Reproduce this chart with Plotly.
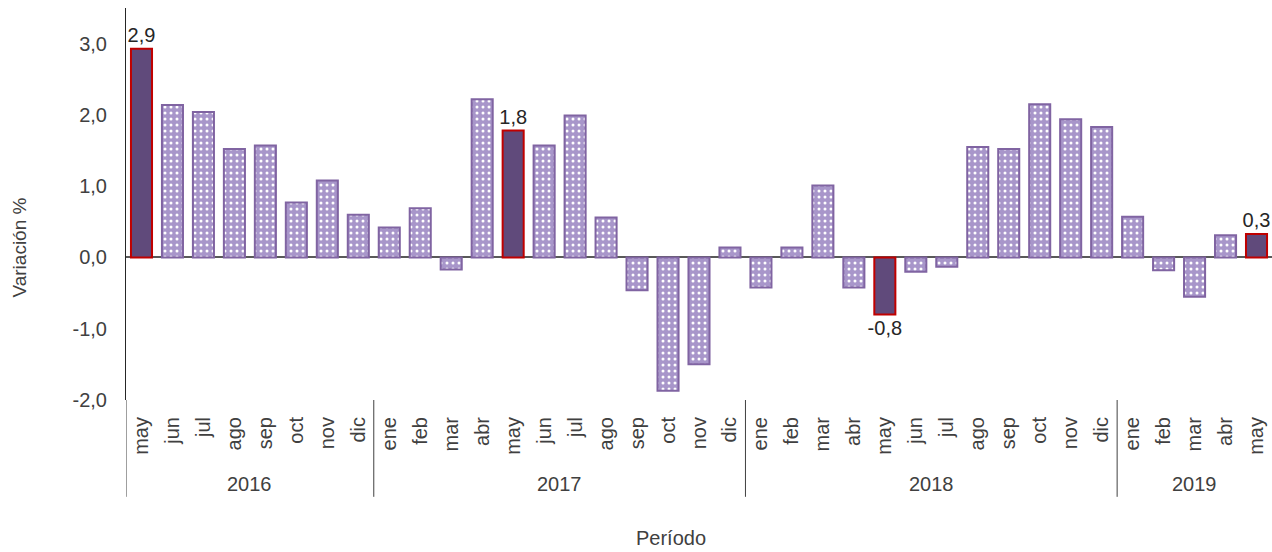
import plotly.graph_objects as go

years = ["2016"] * 8 + ["2017"] * 12 + ["2018"] * 12 + ["2019"] * 5
months = ["may", "jun", "jul", "ago", "sep", "oct", "nov", "dic",
          "ene", "feb", "mar", "abr", "may", "jun", "jul", "ago", "sep", "oct", "nov", "dic",
          "ene", "feb", "mar", "abr", "may", "jun", "jul", "ago", "sep", "oct", "nov", "dic",
          "ene", "feb", "mar", "abr", "may"]
values = [2.93, 2.14, 2.04, 1.52, 1.57, 0.77, 1.08, 0.60,
          0.42, 0.69, -0.17, 2.22, 1.78, 1.57, 1.99, 0.56, -0.46, -1.87, -1.50, 0.14,
          -0.42, 0.14, 1.01, -0.42, -0.80, -0.20, -0.13, 1.55, 1.52, 2.15, 1.94, 1.83,
          0.57, -0.18, -0.55, 0.31, 0.33]
y_ticks = [-2, -1, 0, 1, 2, 3]
y_ticktext = [f"{v:.1f}".replace(".", ",") for v in y_ticks]

keys = [f"{m} {y}" for m, y in zip(months, years)]
highlight = [m == "may" for m in months]
normal_vals = [None if h else v for v, h in zip(values, highlight)]
may_vals = [v if h else None for v, h in zip(values, highlight)]
labels = [f"{v:.1f}".replace(".", ",") if h else "" for v, h in zip(values, highlight)]

FONT = "Liberation Sans"
TXT = "#404040"

fig = go.Figure()
fig.add_trace(go.Bar(
    x=keys, y=normal_vals,
    marker=dict(color="#A896CA", line=dict(color="#8064A2", width=2),
                pattern=dict(shape=".", fgcolor="#FFFFFF", bgcolor="#A896CA",
                             fillmode="replace", size=6, solidity=0.2)),
    showlegend=False,
))
fig.add_trace(go.Bar(
    x=keys, y=may_vals,
    marker=dict(color="#604A7B", line=dict(color="#C00000", width=2)),
    text=labels, textposition="outside", cliponaxis=False, constraintext="none",
    textfont=dict(size=20, color="#262626", family=FONT),
    showlegend=False,
))

# year groups: labels and dividers derived from the category arrays
groups = []
for i, yv in enumerate(years):
    if not groups or groups[-1][0] != yv:
        groups.append([yv, i, i])
    else:
        groups[-1][2] = i

for yv, i0, i1 in groups:
    fig.add_annotation(x=(i0 + i1) / 2, xref="x", y=-0.214, yref="paper",
                       text=yv, showarrow=False, yanchor="middle",
                       font=dict(size=20, color=TXT, family=FONT))
    fig.add_shape(type="line", xref="x", yref="paper", x0=i0 - 0.5, x1=i0 - 0.5,
                  y0=0, y1=-0.247, line=dict(color="#404040", width=1))

fig.add_annotation(x=0.476, xref="paper", y=-0.352, yref="paper", text="Período",
                   showarrow=False, yanchor="middle",
                   font=dict(size=20, color=TXT, family=FONT))
fig.add_annotation(x=-0.093, xref="paper", y=0.39, yref="paper", text="Variación %",
                   showarrow=False, textangle=-90, xanchor="center", yanchor="middle",
                   font=dict(size=19, color=TXT, family=FONT))

fig.update_layout(
    width=1272, height=552,
    margin=dict(l=126, r=0, t=8, b=152),
    plot_bgcolor="white", paper_bgcolor="white",
    barmode="overlay",
    bargap=0.32,
    font=dict(family=FONT, color=TXT, size=20),
    xaxis=dict(type="category", tickvals=keys, ticktext=months, tickangle=-90,
               showline=False, ticks="", showgrid=False, ticklabelstandoff=12,
               range=[-0.5, len(keys) - 0.5],
               tickfont=dict(size=20, color=TXT, family=FONT)),
    yaxis=dict(range=[-2.0, 3.5], tickvals=y_ticks, ticktext=y_ticktext,
               showline=True, linecolor="#262626", linewidth=1,
               showgrid=False, zeroline=True, zerolinecolor="#595959", zerolinewidth=2,
               ticks="", ticklabelstandoff=14,
               tickfont=dict(size=20, color=TXT, family=FONT)),
)

fig.write_html("out.html", config={"displayModeBar": False},
               post_script="document.body.style.margin='0px';"
                           "document.body.style.overflow='hidden';")
